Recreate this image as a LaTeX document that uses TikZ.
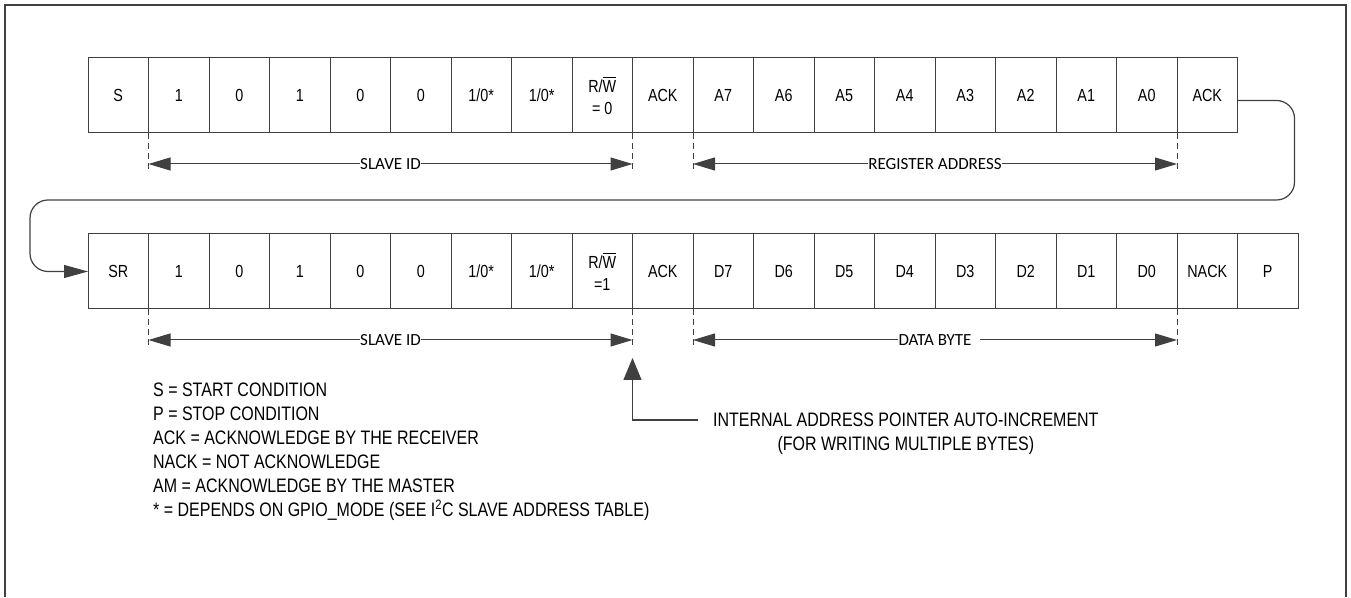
\documentclass[tikz,border=0pt]{standalone}
\usepackage{amsmath}
\usepackage{fontspec}
\setmainfont{Liberation Sans}[FakeStretch=0.82]
\newfontfamily\dimfont{Carlito}
\usepackage{tikz}
\usetikzlibrary{arrows.meta,positioning,calc}
\definecolor{linegray}{HTML}{404040}
\tikzset{
  bitcell/.style={draw=linegray, line width=1pt, minimum width=60.5pt, minimum height=75pt, inner sep=0pt, outer sep=0pt, align=center, font=\fontsize{17.5}{22}\selectfont},
  dimtick/.style={draw=linegray, line width=1pt, dash pattern=on 6pt off 4pt},
  dimarrow/.style={-{Triangle[length=22pt,width=13pt]}, linegray, line width=1pt},
  dimlabel/.style={font=\dimfont\fontsize{17}{20}\selectfont, inner sep=0pt, text=black},
  flowarrow/.style={-{Triangle[length=24pt,width=13pt]}, linegray, line width=1.2pt, rounded corners=18pt},
  ptrarrow/.style={-{Triangle[length=22pt,width=18pt]}, linegray, line width=1.2pt},
  notetext/.style={font=\fontsize{19.5}{24}\selectfont, inner sep=0pt}
}

\begin{document}
\begin{tikzpicture}[x=1pt, y=1pt]
  \useasboundingbox (0,0) rectangle (1351,597);
  \draw[linegray, line width=1.5pt] (5,0) -- (5,592) -- (1346,592) -- (1346,0);

  % first frame: write slave id + register address
  \node[bitcell] (s) at (118.25,501.5) {S};
  \node[bitcell, right=0pt of s] (w1) {1};
  \node[bitcell, right=0pt of w1] (w2) {0};
  \node[bitcell, right=0pt of w2] (w3) {1};
  \node[bitcell, right=0pt of w3] (w4) {0};
  \node[bitcell, right=0pt of w4] (w5) {0};
  \node[bitcell, right=0pt of w5] (w6) {1/0*};
  \node[bitcell, right=0pt of w6] (w7) {1/0*};
  \node[bitcell, right=0pt of w7] (wrw) {R/$\overline{\mbox{W}}$\\= 0};
  \node[bitcell, right=0pt of wrw] (wack) {ACK};
  \node[bitcell, right=0pt of wack] (a7) {A7};
  \node[bitcell, right=0pt of a7] (a6) {A6};
  \node[bitcell, right=0pt of a6] (a5) {A5};
  \node[bitcell, right=0pt of a5] (a4) {A4};
  \node[bitcell, right=0pt of a4] (a3) {A3};
  \node[bitcell, right=0pt of a3] (a2) {A2};
  \node[bitcell, right=0pt of a2] (a1) {A1};
  \node[bitcell, right=0pt of a1] (a0) {A0};
  \node[bitcell, right=0pt of a0] (aack) {ACK};

  % second frame: repeated start + read data
  \node[bitcell, below=101pt of s] (sr) {SR};
  \node[bitcell, right=0pt of sr] (r1) {1};
  \node[bitcell, right=0pt of r1] (r2) {0};
  \node[bitcell, right=0pt of r2] (r3) {1};
  \node[bitcell, right=0pt of r3] (r4) {0};
  \node[bitcell, right=0pt of r4] (r5) {0};
  \node[bitcell, right=0pt of r5] (r6) {1/0*};
  \node[bitcell, right=0pt of r6] (r7) {1/0*};
  \node[bitcell, right=0pt of r7] (rrw) {R/$\overline{\mbox{W}}$\\=1};
  \node[bitcell, right=0pt of rrw] (rack) {ACK};
  \node[bitcell, right=0pt of rack] (d7) {D7};
  \node[bitcell, right=0pt of d7] (d6) {D6};
  \node[bitcell, right=0pt of d6] (d5) {D5};
  \node[bitcell, right=0pt of d5] (d4) {D4};
  \node[bitcell, right=0pt of d4] (d3) {D3};
  \node[bitcell, right=0pt of d3] (d2) {D2};
  \node[bitcell, right=0pt of d2] (d1) {D1};
  \node[bitcell, right=0pt of d1] (d0) {D0};
  \node[bitcell, right=0pt of d0] (nack) {NACK};
  \node[bitcell, right=0pt of nack] (p) {P};

  \draw[flowarrow] ([yshift=-5pt]aack.east) -- ++(57,0) |- (30,397) |- (sr.west);

  % spans under the frames
  \foreach \c in {w1,wack,a7,aack,r1,rack,d7,nack}
    \draw[dimtick] (\c.south west) -- ++(0,-36);

  \coordinate (sidl) at ([yshift=-31pt]w1.south west);
  \coordinate (sidr) at ([yshift=-31pt]wack.south west);
  \node[dimlabel] (sid) at ($(sidl)!0.5!(sidr)$) {SLAVE ID};
  \draw[dimarrow] (sid) -- (sidl);
  \draw[dimarrow] (sid) -- (sidr);

  \coordinate (regl) at ([yshift=-31pt]a7.south west);
  \coordinate (regr) at ([yshift=-31pt]aack.south west);
  \node[dimlabel] (reg) at ($(regl)!0.5!(regr)$) {REGISTER ADDRESS};
  \draw[dimarrow] (reg) -- (regl);
  \draw[dimarrow] (reg) -- (regr);

  \coordinate (ridl) at ([yshift=-31pt]r1.south west);
  \coordinate (ridr) at ([yshift=-31pt]rack.south west);
  \node[dimlabel] (rid) at ($(ridl)!0.5!(ridr)$) {SLAVE ID};
  \draw[dimarrow] (rid) -- (ridl);
  \draw[dimarrow] (rid) -- (ridr);

  \coordinate (datl) at ([yshift=-31pt]d7.south west);
  \coordinate (datr) at ([yshift=-31pt]nack.south west);
  \node[dimlabel] (dat) at ($(datl)!0.5!(datr)$) {DATA BYTE};
  \draw[dimarrow] (dat) -- (datl);
  \draw[dimarrow] ([xshift=8pt]dat.east) -- (datr);

  % pointer note
  \coordinate (ptrtip) at ([yshift=-49pt]rack.south west);
  \node[notetext, align=center, anchor=north west] (ptr) at (713,184)
    {INTERNAL ADDRESS POINTER AUTO-INCREMENT\\(FOR WRITING MULTIPLE BYTES)};
  \draw[ptrarrow] ([shift={(-15pt,-7pt)}]ptr.north west) -| (ptrtip);

  % legend
  \node[notetext, align=left, anchor=north west] (legend) at (153,214)
    {S = START CONDITION\\
     P = STOP CONDITION\\
     ACK = ACKNOWLEDGE BY THE RECEIVER\\
     NACK = NOT ACKNOWLEDGE\\
     AM = ACKNOWLEDGE BY THE MASTER\\
     * = DEPENDS ON GPIO\_MODE (SEE I\textsuperscript{2}C SLAVE ADDRESS TABLE)};
\end{tikzpicture}
\end{document}
